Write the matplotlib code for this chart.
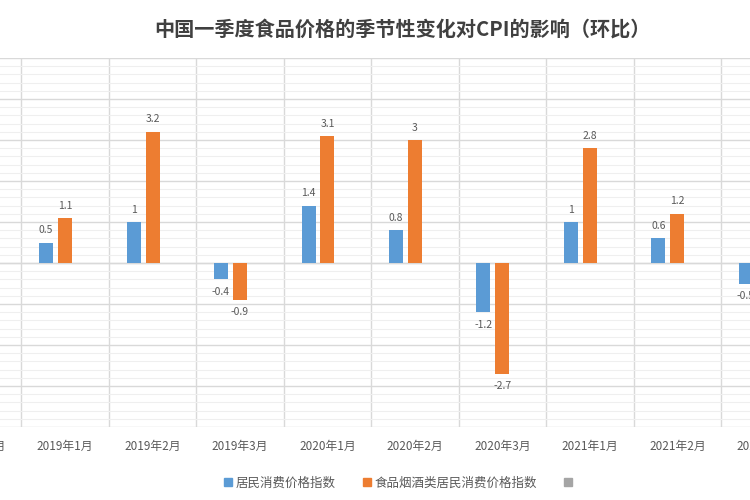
import matplotlib
matplotlib.use("Agg")
import matplotlib.pyplot as plt
from matplotlib.patches import Patch
from matplotlib.ticker import MultipleLocator
import numpy as np

plt.rcParams['font.family'] = ['Noto Sans CJK SC', 'DejaVu Sans']

# months shown (first and last are cut by the crop of the picture)
months = ["2018年3月", "2019年1月", "2019年2月", "2019年3月", "2020年1月",
          "2020年2月", "2020年3月", "2021年1月", "2021年2月", "2021年3月"]
cpi = [-1.1, 0.5, 1, -0.4, 1.4, 0.8, -1.2, 1, 0.6, -0.5]
food = [-2.6, 1.1, 3.2, -0.9, 3.1, 3, -2.7, 2.8, 1.2, -2.0]
series_names = ["居民消费价格指数", "食品烟酒类居民消费价格指数", " "]

BLUE = "#5B9BD5"
ORANGE = "#ED7D31"
GRAY = "#A5A5A5"
LABEL = "#595959"

fig = plt.figure(figsize=(7.5, 5), dpi=100)
ax = fig.add_axes([0, 0.146, 1, 0.738])

x = np.arange(len(months)) - 1  # 2019年1月 at 0
w = 0.16
step = 0.217
b1 = ax.bar(x - step, cpi, w, color=BLUE, zorder=3)
b2 = ax.bar(x, food, w, color=ORANGE, zorder=3)

for bars, vals in ((b1, cpi), (b2, food)):
    for r, v in zip(bars, vals):
        cx = r.get_x() + r.get_width() / 2
        off = 0.18 if v >= 0 else -0.18
        ax.text(cx, v + off, f"{v:g}", ha="center",
                va="bottom" if v >= 0 else "top",
                fontsize=7.5, color=LABEL, zorder=4)

ax.yaxis.set_major_locator(MultipleLocator(1))
ax.yaxis.set_minor_locator(MultipleLocator(0.2))
ax.set_xticks(x)
ax.set_xticklabels(months, fontsize=8.5, color=LABEL)
ax.set_xticks(np.append(x - 0.5, x[-1] + 0.5), minor=True)
ax.set_xlim(-0.743, 7.829)
ax.set_ylim(-4, 5)
ax.tick_params(axis="x", which="both", length=0, pad=9)
ax.tick_params(axis="y", which="both", length=0, labelleft=False)
ax.grid(axis="y", which="major", color="#D9D9D9", lw=1, zorder=0)
ax.grid(axis="y", which="minor", color="#EFEFEF", lw=0.8, zorder=0)
ax.grid(axis="x", which="minor", color="#D9D9D9", lw=1, zorder=0)
ax.axhline(0, color="#D9D9D9", lw=1, zorder=1)
for s in ax.spines.values():
    s.set_visible(False)

# first and last months sit outside the view, their labels are only partly seen
for i in (0, -1):
    ax.annotate(months[i], xy=(x[i], 0), xycoords=("data", "axes fraction"),
                xytext=(0, -9), textcoords="offset points", ha="center",
                va="top", fontsize=8.5, color=LABEL, annotation_clip=False)

fig.text(0.536, 0.942, "中国一季度食品价格的季节性变化对CPI的影响（环比）",
         ha="center", va="center", fontsize=14.5, fontweight="bold",
         color="#404040")

handles = [Patch(color=c) for c in (BLUE, ORANGE, GRAY)]
fig.legend(handles, series_names, loc="center", bbox_to_anchor=(0.535, 0.034),
           ncol=3, frameon=False, fontsize=9, handlelength=0.6,
           handleheight=0.6, columnspacing=2.2, handletextpad=0.3,
           labelcolor=LABEL)

fig.savefig("out.png", dpi=100)
